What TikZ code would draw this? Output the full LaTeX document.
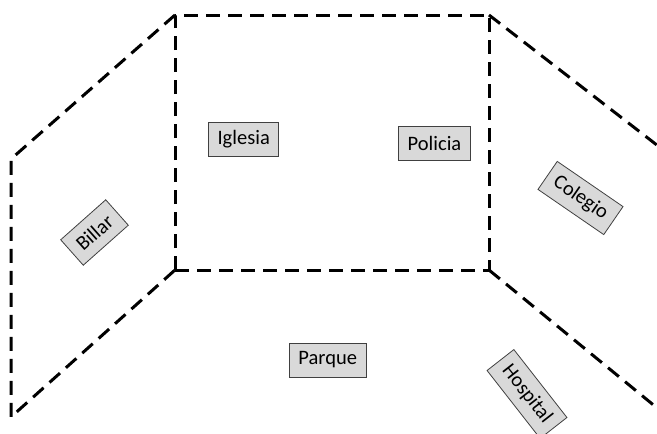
\documentclass[tikz,border=0pt]{standalone}
\usepackage{fontspec}
\setmainfont{Carlito}
\begin{document}
\begin{tikzpicture}[x=1pt,y=-1pt,
  wall/.style={line width=3pt,dash pattern=on 14pt off 8pt,line join=round},
  place/.style={draw=black!75,line width=0.8pt,fill=black!15,font=\fontsize{20.5}{22}\selectfont,
    inner xsep=9pt,inner ysep=0pt,minimum height=34pt,anchor=center}]
\useasboundingbox (0,0) rectangle (657,434);
\coordinate (A) at (175,15);
\coordinate (B) at (489,15);
\coordinate (C) at (175,270);
\coordinate (D) at (489,270);
\coordinate (LT) at (11,159);
\coordinate (LB) at (11,417);
\coordinate (RT) at (662,149);
\coordinate (RB) at (662,412);
\draw[wall] (C) -- (A) -- (B) -- (D);
\draw[wall] (C) -- (D);
\draw[wall] (A) -- (LT) -- (LB) -- (C);
\draw[wall] (B) -- (RT);
\draw[wall] (D) -- (RB);
\node[place] (iglesia) at (243.7,139.5) {Iglesia};
\node[place] (policia) at (434.5,143) {Policia};
\node[place] (parque) at (327.7,360) {Parque};
\node[place,rotate=41.6] (billar) at (94.5,232.5) {Billar};
\node[place,rotate=-34.5] (colegio) at (580.5,198) {Colegio};
\node[place,rotate=-52] (hospital) at (527,394) {Hospital};
\end{tikzpicture}
\end{document}
